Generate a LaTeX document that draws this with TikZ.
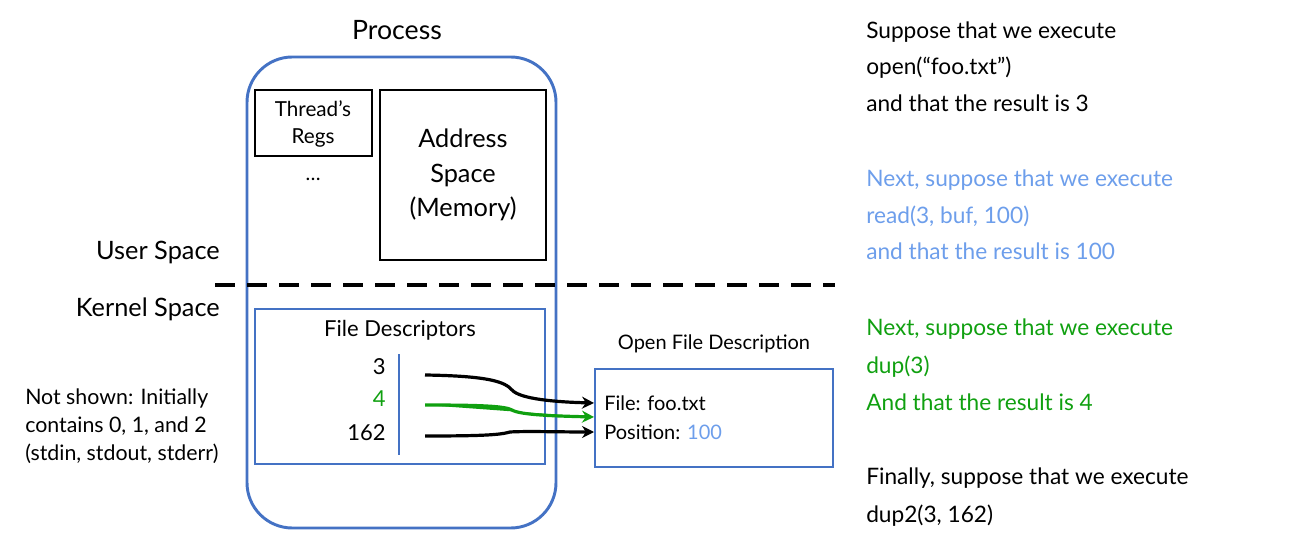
\documentclass[tikz,border=0pt]{standalone}
\usepackage{fontspec}
\setmainfont{Lato}
\usetikzlibrary{arrows.meta}
\definecolor{boxblue}{HTML}{4472C4}
\definecolor{lblue}{HTML}{6D9EEB}
\definecolor{dgreen}{RGB}{16,160,16}
\tikzset{
  blk/.style={draw=black, line width=2.2pt},
  bluebox/.style={draw=boxblue, line width=1.6pt},
  rtext/.style={anchor=base west, inner sep=0pt, font=\fontsize{17}{21}\selectfont},
  lbl/.style={inner sep=0pt, font=\fontsize{19}{23}\selectfont},
  small/.style={inner sep=0pt, font=\fontsize{15}{18}\selectfont},
  fdarrow/.style={line width=2.4pt, -{Stealth[length=9pt,width=9pt]}},
}
\begin{document}
\begin{tikzpicture}[x=0.75pt,y=-0.75pt]
\useasboundingbox (0,0) rectangle (1298,559);
% process
\node[lbl, font=\fontsize{20}{24}\selectfont] (proc) at (397,30) {Process};
\draw[draw=boxblue, line width=2.2pt, rounded corners=34pt] (247,57) rectangle (556,528);
% thread regs
\draw[blk] (255,90) rectangle (372,156);
\node[small, align=center, font=\fontsize{15.5}{20}\selectfont] (regs) at (313,124) {Thread’s\\Regs};
\node[small] (dots) at (313,179) {…};
% address space
\draw[blk] (380,90) rectangle (546,260);
\node[lbl, align=center, font=\fontsize{19}{26}\selectfont] (addr) at (463,175) {Address\\Space\\(Memory)};
% spaces
\node[lbl, anchor=east] (user) at (220,252) {User Space};
\node[lbl, anchor=east] (kern) at (220,309) {Kernel Space};
\coordinate (dl) at (215,285);
\coordinate (dr) at (835,285);
\draw[line width=3pt, dash pattern=on 15pt off 9pt] (dl) -- (dr);
% file descriptors
\draw[bluebox] (255,309) rectangle (545,464);
\node[lbl, font=\fontsize{16.5}{20}\selectfont] (fdt) at (400,330) {File Descriptors};
\node[lbl, anchor=base east, font=\fontsize{16.5}{20}\selectfont] (n3) at (386,374) {3};
\node[lbl, anchor=base east, text=dgreen, font=\fontsize{16.5}{20}\selectfont] (n4) at (386,406) {4};
\node[lbl, anchor=base east, font=\fontsize{16.5}{20}\selectfont] (n162) at (386,440) {162};
\coordinate (vt) at (399,354);
\coordinate (vb) at (399,455);
\draw[draw=boxblue, line width=1pt] (vt) -- (vb);
% open file description
\node[small] (ofdt) at (714,344) {Open File Description};
\draw[bluebox] (595,369) rectangle (833,467);
\node[small, anchor=base west] (file) at (604,410) {File: foo.txt};
\node[small, anchor=base west] (pos) at (604,439) {Position: \textcolor{lblue}{100}};
% arrows
\coordinate (a3) at (425,375);
\coordinate (a4) at (425,405);
\coordinate (a162) at (425,436);
\coordinate (e3) at (594,403);
\coordinate (e4) at (594,417);
\coordinate (e162) at (594,432);
\draw[fdarrow] (a3) .. controls (490,376) and (505,382) .. (512,390) .. controls (520,399) and (555,402) .. (e3);
\draw[fdarrow, draw=dgreen, fill=dgreen] (a4) .. controls (480,405) and (505,406) .. (512,410) .. controls (520,415) and (555,416) .. (e4);
\draw[fdarrow] (a162) .. controls (480,436) and (500,435) .. (510,432) .. controls (525,431) and (560,432) .. (e162);
% not shown
\node[small, anchor=base west, align=left, font=\fontsize{16}{21}\selectfont] (ns) at (25,460) {Not shown: Initially\\contains 0, 1, and 2\\(stdin, stdout, stderr)};
% right side
\node[rtext] (t1) at (866,39) {Suppose that we execute};
\node[rtext] (t2) at (866,75) {open(“foo.txt”)};
\node[rtext] (t3) at (866,112) {and that the result is 3};
\node[rtext, text=lblue] (t4) at (866,187) {Next, suppose that we execute};
\node[rtext, text=lblue] (t5) at (866,224) {read(3, buf, 100)};
\node[rtext, text=lblue] (t6) at (866,260) {and that the result is 100};
\node[rtext, text=dgreen] (t7) at (866,335) {Next, suppose that we execute};
\node[rtext, text=dgreen] (t8) at (866,373) {dup(3)};
\node[rtext, text=dgreen] (t9) at (866,410) {And that the result is 4};
\node[rtext] (t10) at (866,484) {Finally, suppose that we execute};
\node[rtext] (t11) at (866,522) {dup2(3, 162)};
\end{tikzpicture}
\end{document}
